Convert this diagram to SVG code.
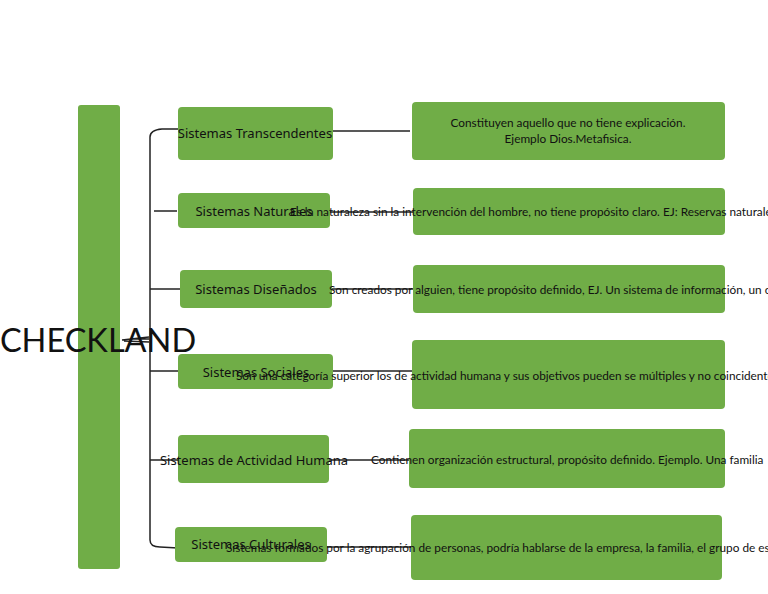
<svg xmlns="http://www.w3.org/2000/svg" width="768" height="594" viewBox="0 0 768 594">
<style>
.box{fill:#70ad47;}
.t{font-family:Lato,"Liberation Sans",sans-serif;fill:#111;}
.n{font-family:"Noto Sans","Open Sans",sans-serif;font-size:13px;text-anchor:middle;}
.d{font-size:11.8px;}
.c{fill:none;stroke:#222;stroke-width:1.5;}
</style>
<rect width="768" height="594" fill="#fff"/>
<g id="root">
<rect class="box" x="78" y="105" width="42" height="464" rx="3"/>
</g>
<g id="connectors">
<path class="c" d="M178,129 L162,129 Q150,130 150,137 L150,540 Q150,547 160,547 L178,548"/>
<path class="c" d="M154,211 L177,211"/>
<path class="c" d="M150,289 L180,289"/>
<path class="c" d="M150,371 L178,371"/>
<path class="c" d="M150,460 L178,460"/>
<path class="c" d="M122,340 L149,337 M124,341 L149,342 M130,339 L149,339"/>
<path class="c" d="M333,131 L410,131"/>
<path class="c" d="M330,212 L413,212"/>
<path class="c" d="M332,289 L413,289"/>
<path class="c" d="M333,371 L412,371"/>
<path class="c" d="M329,460 L409,460"/>
<path class="c" d="M327,547 L411,547"/>
</g>
<g id="n1">
<rect class="box" x="178" y="107" width="155" height="53" rx="4"/>
<text class="t n" x="255" y="138">Sistemas Transcendentes</text>
</g>
<g id="d1">
<rect class="box" x="412" y="102" width="313" height="58" rx="4"/>
<text class="t d" x="568" y="127" text-anchor="middle">Constituyen aquello que no tiene explicación.</text>
<text class="t d" x="568" y="143" text-anchor="middle">Ejemplo Dios.Metafisica.</text>
</g>
<g id="n2">
<rect class="box" x="178" y="193" width="152" height="35" rx="4"/>
<text class="t n" x="254" y="216">Sistemas Naturales</text>
</g>
<g id="d2">
<rect class="box" x="413" y="188" width="312" height="47" rx="4"/>
<text class="t d" x="290" y="216">Es la naturaleza sin la intervención del hombre, no tiene propósito claro. EJ: Reservas naturales</text>
</g>
<g id="n3">
<rect class="box" x="180" y="270" width="152" height="38" rx="4"/>
<text class="t n" x="256" y="294">Sistemas Diseñados</text>
</g>
<g id="d3">
<rect class="box" x="413" y="265" width="312" height="48" rx="4"/>
<text class="t d" x="329" y="294">Son creados por alguien, tiene propósito definido, EJ. Un sistema de información, un carro</text>
</g>
<g id="n4">
<rect class="box" x="178" y="354" width="155" height="35" rx="4"/>
<text class="t n" x="256" y="377">Sistemas Sociales</text>
</g>
<g id="d4">
<rect class="box" x="412" y="340" width="313" height="69" rx="4"/>
<text class="t d" x="236" y="380">Son una categoría superior los de actividad humana y sus objetivos pueden se múltiples y no coincidentes</text>
</g>
<g id="n5">
<rect class="box" x="178" y="435" width="151" height="48" rx="4"/>
<text class="t n" x="254" y="465">Sistemas de Actividad Humana</text>
</g>
<g id="d5">
<rect class="box" x="409" y="429" width="316" height="59" rx="4"/>
<text class="t d" x="371" y="464">Contienen organización estructural, propósito definido. Ejemplo. Una familia</text>
</g>
<g id="n6">
<rect class="box" x="175" y="527" width="152" height="35" rx="4"/>
<text class="t n" x="251" y="549">Sistemas Culturales</text>
</g>
<g id="d6">
<rect class="box" x="411" y="515" width="311" height="65" rx="4"/>
<text class="t d" x="226" y="552">Sistemas formados por la agrupación de personas, podría hablarse de la empresa, la familia, el grupo de estudio</text>
</g>
<g id="title">
<text class="t" x="98" y="352" font-size="32.5" text-anchor="middle" fill="#000">CHECKLAND</text>
</g>
</svg>
